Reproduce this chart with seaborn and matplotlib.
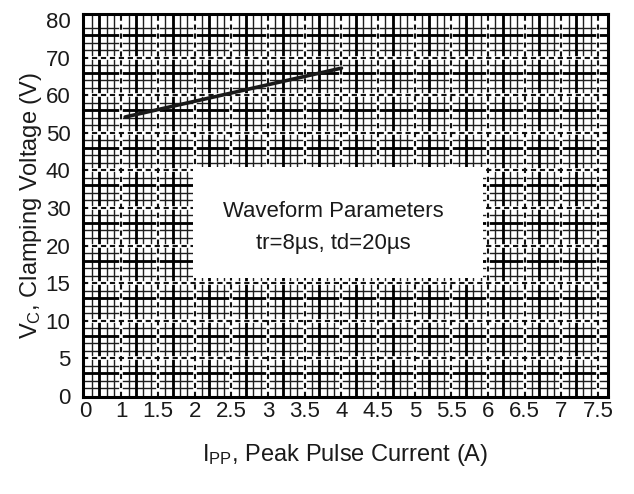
import numpy as np
import pandas as pd
import matplotlib
matplotlib.use("Agg")
import matplotlib.pyplot as plt
from matplotlib.patches import Rectangle
import seaborn as sns

# ---- data ----
x_tick_values = [0, 1, 1.5, 2, 2.5, 3, 3.5, 4, 4.5, 5, 5.5, 6, 6.5, 7, 7.5]
x_tick_labels = ["0", "1", "1.5", "2", "2.5", "3", "3.5", "4", "4.5", "5", "5.5", "6", "6.5", "7", "7.5"]
y_tick_values = [0, 5, 10, 15, 20, 30, 40, 50, 60, 70, 80]
y_tick_labels = ["0", "5", "10", "15", "20", "30", "40", "50", "60", "70", "80"]
ipp = [1.05, 4.0]          # Peak pulse current (A)
vc = [54.2, 67.2]          # Clamping voltage (V)

sns.set_style("white")
plt.rcParams['font.family'] = ['Liberation Sans', 'DejaVu Sans']
plt.rcParams['mathtext.default'] = 'regular'


def make_scale(vals):
    vals = np.asarray(vals, float)
    idx = np.arange(len(vals), dtype=float)

    def fwd(v):
        v = np.asarray(v, float)
        out = np.interp(v, vals, idx)
        out = np.where(v < vals[0], (v - vals[0]) / (vals[1] - vals[0]), out)
        out = np.where(v > vals[-1], idx[-1] + (v - vals[-1]) / (vals[-1] - vals[-2]), out)
        return out

    def inv(i):
        i = np.asarray(i, float)
        out = np.interp(i, idx, vals)
        out = np.where(i < 0, vals[0] + i * (vals[1] - vals[0]), out)
        out = np.where(i > idx[-1], vals[-1] + (i - idx[-1]) * (vals[-1] - vals[-2]), out)
        return out
    return fwd, inv


xf, xi = make_scale(x_tick_values)
yf, yi = make_scale(y_tick_values)

fig = plt.figure(figsize=(6.34, 4.94), dpi=100)
ax = fig.add_axes([83 / 634, 97 / 494, 525 / 634, 383 / 494])
ax.set_xscale('function', functions=(xf, xi))
ax.set_yscale('function', functions=(yf, yi))
ax.set_xlim(float(xi(-0.05)), float(xi(14.27)))
ax.set_ylim(float(yi(-0.03)), float(yi(10.16)))

# minor grid (5 subdivisions per step)
xm = np.round(np.arange(0, 71) * 0.2, 6)
ym = np.round(np.arange(0, 51) * 0.2, 6)
ax.set_xticks(xi(xm), minor=True)
ax.set_yticks(yi(ym), minor=True)
ax.grid(which='minor', color='#1e1e1e', linewidth=1.0, zorder=1)
ax.set_axisbelow(True)

# thick solid lines
for k in range(0, 15):
    ax.axvline(float(xi(k + 0.4)), color='#000000', linewidth=2.0, zorder=1.2)
for k in range(0, 10):
    ax.axhline(float(yi(k + 0.6)), color='#000000', linewidth=2.0, zorder=1.2)

# dashed major lines with white underlay
for v in x_tick_values[1:]:
    ax.axvline(v, color='white', linewidth=2.6, zorder=1.3)
    ax.axvline(v, color='#111111', linewidth=1.5, linestyle=(0, (2.5, 1.8)), zorder=1.4)
for v in y_tick_values[1:-1]:
    ax.axhline(v, color='white', linewidth=2.6, zorder=1.3)
    ax.axhline(v, color='#111111', linewidth=1.5, linestyle=(0, (2.5, 1.8)), zorder=1.4)

# white annotation box
ax.add_patch(Rectangle((0.2095, 0.311), 0.5525, 0.289, transform=ax.transAxes,
                       facecolor='white', edgecolor='none', zorder=2))
ax.text(0.4775, 0.485, "Waveform Parameters", transform=ax.transAxes,
        ha='center', va='center', fontsize=15.9, color='#1a1a1a', zorder=3)
ax.text(0.4775, 0.40, "tr=8µs, td=20µs", transform=ax.transAxes,
        ha='center', va='center', fontsize=15.9, color='#1a1a1a', zorder=3)

df = pd.DataFrame({"ipp": ipp, "vc": vc})
sns.lineplot(data=df, x="ipp", y="vc", ax=ax, color='#1a1a1a', linewidth=2.6, zorder=4)

ax.set_xticks(x_tick_values)
ax.set_xticklabels(x_tick_labels)
ax.set_yticks(y_tick_values)
ax.set_yticklabels(y_tick_labels)
ax.tick_params(which='both', length=0, labelsize=16, colors='#1a1a1a')
ax.tick_params(axis='y', pad=9)
ax.tick_params(axis='x', pad=3)

for s in ax.spines.values():
    s.set_visible(True)
    s.set_color('#000000')
    s.set_linewidth(2.2)
    s.set_zorder(5)

ax.set_xlabel(r"$\mathregular{I_{PP}}$, Peak Pulse Current (A)", fontsize=17,
              color='#1a1a1a', labelpad=14)
ax.set_ylabel(r"$\mathregular{V_{C}}$, Clamping Voltage (V)", fontsize=17,
              color='#1a1a1a', labelpad=1)

fig.savefig("out.png", dpi=100)
